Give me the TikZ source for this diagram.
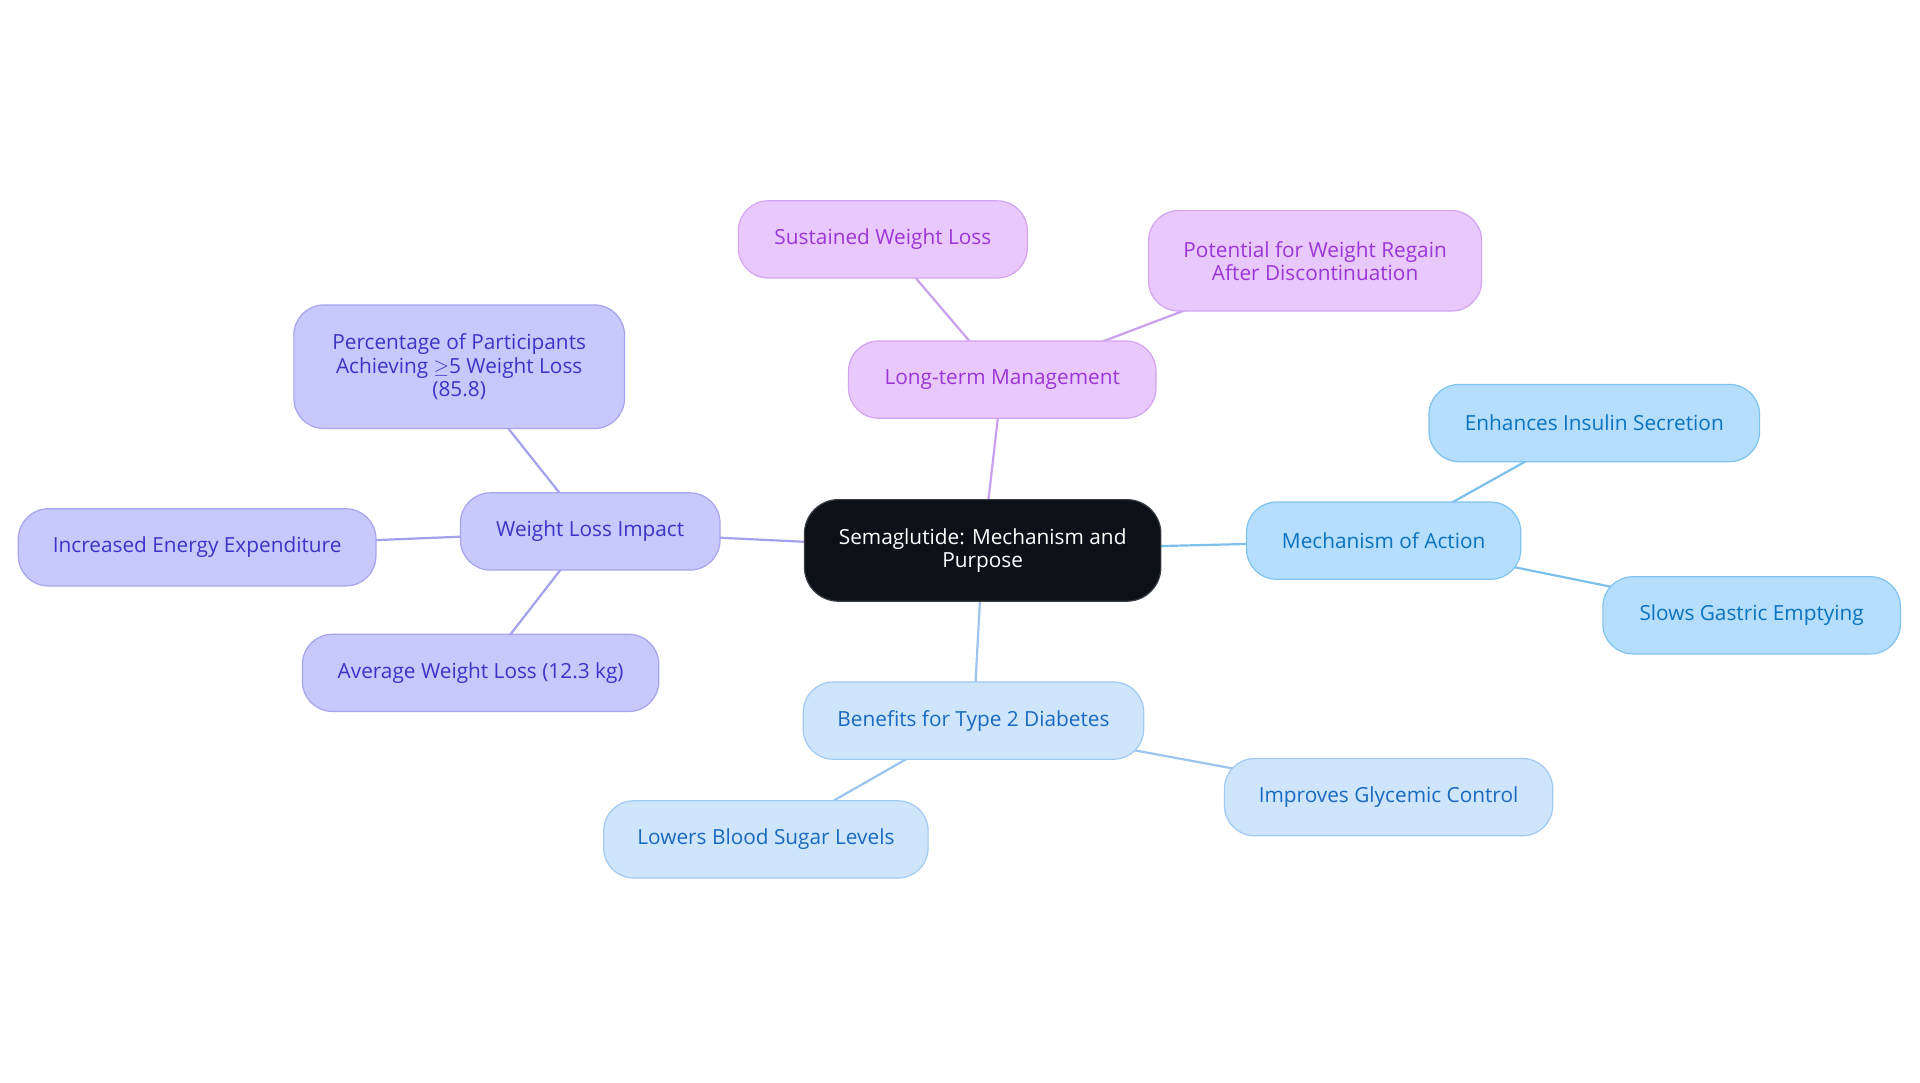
\documentclass[tikz,border=0pt]{standalone}
\usepackage{fontspec}
\setmainfont{Open Sans}
\usetikzlibrary{positioning,backgrounds}
\definecolor{hubfill}{HTML}{0D1117}
\definecolor{hubdraw}{HTML}{3A3F46}
\definecolor{purfill}{HTML}{E9C9FC}
\definecolor{purdraw}{HTML}{D3A4F2}
\definecolor{purtext}{HTML}{9A35D6}
\definecolor{purline}{HTML}{C9A0EE}
\definecolor{indfill}{HTML}{C7C9FC}
\definecolor{inddraw}{HTML}{A6A4EE}
\definecolor{indtext}{HTML}{3B34C6}
\definecolor{indline}{HTML}{A3A1EC}
\definecolor{blufill}{HTML}{B5DEFD}
\definecolor{bludraw}{HTML}{80C3F0}
\definecolor{blutext}{HTML}{0A72BE}
\definecolor{bluline}{HTML}{7EC0EC}
\definecolor{ltbfill}{HTML}{CFE5FC}
\definecolor{ltbdraw}{HTML}{A0C9F3}
\definecolor{ltbtext}{HTML}{1A69C0}
\definecolor{ltbline}{HTML}{9BC4EE}
\tikzset{
  topic/.style={rectangle, rounded corners=15pt, align=center, inner xsep=4pt,
    minimum height=38.6pt, line width=0.6pt,
    font=\fontsize{10.4pt}{11.6pt}\selectfont},
  hub/.style={topic, rounded corners=17pt, fill=hubfill, draw=hubdraw, text=white,
    minimum width=178.2pt, minimum height=50.8pt},
  purbox/.style={topic, fill=purfill, draw=purdraw, text=purtext},
  indbox/.style={topic, fill=indfill, draw=inddraw, text=indtext},
  blubox/.style={topic, fill=blufill, draw=bludraw, text=blutext},
  ltbbox/.style={topic, fill=ltbfill, draw=ltbdraw, text=ltbtext},
  link/.style={line width=1.1pt, line cap=round}
}
\begin{document}
\begin{tikzpicture}[x=0.61225pt,y=-0.61225pt]
\useasboundingbox (0,0) rectangle (1568,884.4);

%keskus
\node[hub] (hub) at (802.5,449.5) {Semaglutide: Mechanism and\\Purpose};

%pitkan aikavalin hoito
\node[purbox, minimum width=153.7pt] (longterm) at (818.5,310) {Long-term Management};
\node[purbox, minimum width=144.5pt] (sustained) at (721,195.5) {Sustained Weight Loss};
\node[purbox, minimum width=166.5pt, minimum height=50.2pt] (regain) at (1074,213) {Potential for Weight Regain\\After Discontinuation};

%painonlasku
\node[indbox, minimum width=129.8pt] (impact) at (482,434) {Weight Loss Impact};
\node[indbox, minimum width=165.3pt, minimum height=61.8pt] (percent) at (375,299.5) {Percentage of Participants\\Achieving $\geq$5 Weight Loss\\(85.8)};
\node[indbox, minimum width=178.8pt] (energy) at (161,447) {Increased Energy Expenditure};
\node[indbox, minimum width=178.2pt] (average) at (392.5,549.5) {Average Weight Loss (12.3 kg)};

%vaikutusmekanismi
\node[blubox, minimum width=137.1pt] (mechanism) at (1130,441.5) {Mechanism of Action};
\node[blubox, minimum width=165.3pt] (insulin) at (1302,345.5) {Enhances Insulin Secretion};
\node[blubox, minimum width=148.8pt] (gastric) at (1430.5,502.5) {Slows Gastric Emptying};

%tyypin 2 diabetes
\node[ltbbox, minimum width=170.2pt] (benefits) at (795,588.5) {Benefits for Type 2 Diabetes};
\node[ltbbox, minimum width=164.1pt] (glycemic) at (1134,651) {Improves Glycemic Control};
\node[ltbbox, minimum width=162.2pt] (sugar) at (625.5,685.5) {Lowers Blood Sugar Levels};

%yhteydet laatikoiden alle
\begin{scope}[on background layer]
\fill[white] (0,0) rectangle (1568,884.4);
\draw[link, color=purline] (hub.center) -- (longterm.center);
\draw[link, color=purline] (longterm.center) -- (sustained.center);
\draw[link, color=purline] (longterm.center) -- (regain.center);
\draw[link, color=indline] (hub.center) -- (impact.center);
\draw[link, color=indline] (impact.center) -- (percent.center);
\draw[link, color=indline] (impact.center) -- (energy.center);
\draw[link, color=indline] (impact.center) -- (average.center);
\draw[link, color=bluline] (hub.center) -- (mechanism.center);
\draw[link, color=bluline] (mechanism.center) -- (insulin.center);
\draw[link, color=bluline] (mechanism.center) -- (gastric.center);
\draw[link, color=ltbline] (hub.center) -- (benefits.center);
\draw[link, color=ltbline] (benefits.center) -- (glycemic.center);
\draw[link, color=ltbline] (benefits.center) -- (sugar.center);
\end{scope}
\end{tikzpicture}
\end{document}
